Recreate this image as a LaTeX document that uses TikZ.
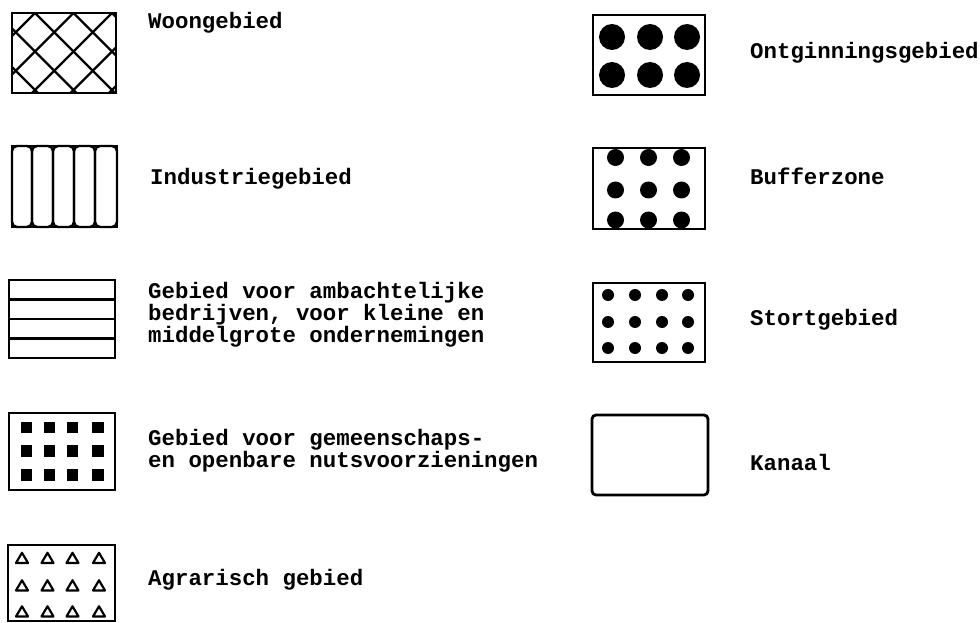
\documentclass[tikz,border=0pt]{standalone}
\usepackage{fontspec}
\setmainfont{Liberation Mono}
\newcommand\lblfont{\fontsize{22.4bp}{22.3bp}\selectfont\bfseries}
\tikzset{
  frame/.style={line width=2.8bp},
  hatch/.style={line width=2.4bp},
  lbl/.style={anchor=base west, inner sep=0pt, font=\lblfont},
  tri/.style={line width=2.2bp, line join=round},
}
\begin{document}
\begin{tikzpicture}[x=1bp,y=-1bp]
\useasboundingbox (0,0) rectangle (980,623);

% --- Woongebied: cross hatching
\begin{scope}
  \clip (12,13) rectangle (116,93);
  \foreach \c in {23,61.5,100,138.5,177}
    \draw[hatch] (12+\c,13) -- ++(-80,80);
  \foreach \c in {-54,-15.5,23,61.5,100}
    \draw[hatch] (12+\c,13) -- ++(80,80);
\end{scope}
\draw[frame] (12,13) rectangle (116,93);
\node[lbl] (woon) at (148,29) {Woongebied};

% --- Industriegebied: vertical strips
\foreach \a/\b in {12/32,32/53,53/74,74/95,95/117}
  \draw[hatch, rounded corners=5bp] (\a,146) rectangle (\b,227);
\draw[frame] (12,146) rectangle (117,227);
\node[lbl] (ind) at (150,185) {Industriegebied};

% --- Ambachtelijke bedrijven: horizontal strips
\draw[frame] (9,280) rectangle (115,358);
\foreach \y in {299.5,319,338.5}
  \draw[hatch] (9,\y) -- (115,\y);
\node[lbl] (amb) at (148,298) {\vtop{\hbox{Gebied voor ambachtelijke}\hbox{bedrijven, voor kleine en}\hbox{middelgrote ondernemingen}}};

% --- Gemeenschapsvoorzieningen: filled squares
\draw[frame] (9,413) rectangle (115,490);
\foreach \x in {26.5,49.5,72.5,98}
  \foreach \y in {427.5,451,475}
    \fill (\x-5.8,\y-5.8) rectangle (\x+5.8,\y+5.8);
\node[lbl] (gem) at (148,445) {\vtop{\hbox{Gebied voor gemeenschaps-}\hbox{en openbare nutsvoorzieningen}}};

% --- Agrarisch gebied: open triangles
\draw[frame] (8,545) rectangle (115,621);
\foreach \x in {22,47.5,72.5,99}
  \foreach \y in {558,585.5,611.5}
    \draw[tri] (\x-6,\y+5) -- (\x,\y-5.2) -- (\x+6,\y+5) -- cycle;
\node[lbl] (agr) at (148,585) {Agrarisch gebied};

% --- Ontginningsgebied: large dots
\draw[frame] (593,15) rectangle (705,95);
\foreach \x in {612,650,687}
  \foreach \y in {37,75}
    \fill (\x,\y) circle[radius=13bp];
\node[lbl] (ont) at (750,59) {Ontginningsgebied};

% --- Bufferzone: medium dots touching the frame
\draw[frame] (593,148) rectangle (705,229);
\foreach \x in {615.5,648.5,681.5}
  \foreach \y in {157.5,190,220}
    \fill (\x,\y) circle[radius=8.5bp];
\node[lbl] (buf) at (750,185) {Bufferzone};

% --- Stortgebied: small dots
\draw[frame] (593,283) rectangle (705,362);
\foreach \x in {608,635,662,688}
  \foreach \y in {295,322,348}
    \fill (\x,\y) circle[radius=6bp];
\node[lbl] (stort) at (750,325) {Stortgebied};

% --- Kanaal: empty rounded frame
\draw[frame, rounded corners=4bp] (592,415) rectangle (708,495);
\node[lbl] (kan) at (750,470) {Kanaal};
\end{tikzpicture}
\end{document}
